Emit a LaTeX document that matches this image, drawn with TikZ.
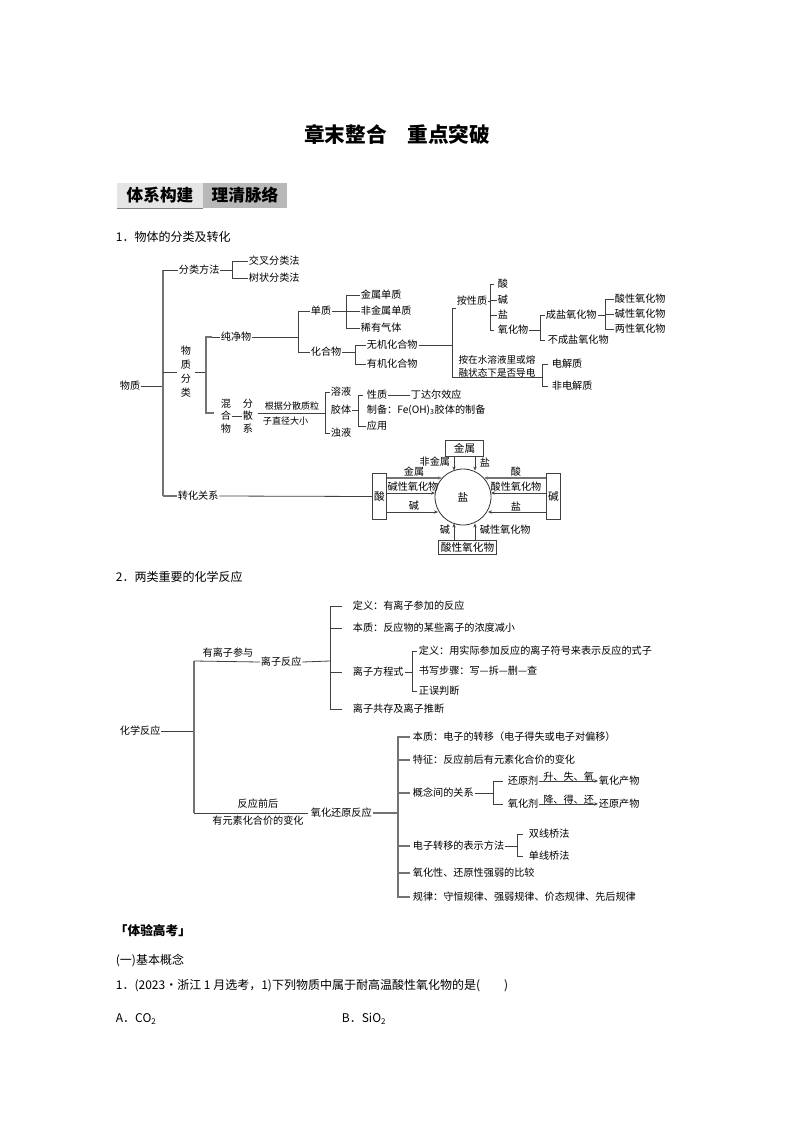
\documentclass[tikz,border=0pt]{standalone}
\usepackage{fontspec}
\setmainfont{Noto Sans CJK SC}
\usetikzlibrary{arrows.meta}
\begin{document}
\begin{tikzpicture}[x=0.75pt,y=-0.75pt,
  t/.style={inner sep=0.5pt,anchor=west,font=\fontsize{7.6}{8.6}\selectfont},
  tc/.style={inner sep=0.5pt,font=\fontsize{7.6}{8.6}\selectfont},
  ln/.style={draw=black!75,line width=0.6pt},
  gl/.style={draw=black!55,line width=0.9pt},
  ar/.style={draw=black!75,line width=0.6pt,-{Stealth[length=3pt,width=2.5pt]}},
  bx/.style={draw=black!75,line width=0.6pt,inner sep=2pt,font=\fontsize{8}{9}\selectfont}]
\useasboundingbox (0,0) rectangle (794,1123);
\fill[white] (0,0) rectangle (794,1123);
% title
\node[font=\fontsize{15.5}{16}\bfseries\selectfont] (title) at (397,135) {章末整合\quad 重点突破};
\fill[black!10] (117,183) rectangle (203,208);
\fill[black!28] (203,183) rectangle (287,208);
\draw[black!50] (117,208) -- (203,208);
\node[font=\fontsize{12.5}{13}\bfseries\selectfont] (h1) at (160,195.5) {体系构建};
\node[font=\fontsize{12.5}{13}\bfseries\selectfont] (h2) at (245,195.5) {理清脉络};
\node[t,font=\fontsize{9}{10}\selectfont] (s1) at (115,237) {1．物体的分类及转化};
% ---------- tree 1
\node[t] (wz) at (119,386) {物质};
\draw[ln] (wz.east) -- (163,386);
\draw[gl] (163,270) -- (163,496);
\node[t] (flff) at (178,270) {分类方法};
\draw[ln] (163,270) -- (flff.west) (flff.east) -- (232,270);
\draw[ln] (238,261) -- (232,261) -- (232,278) -- (238,278);
\node[t] (jc) at (248,261) {交叉分类法};
\node[t] (sz) at (248,278) {树状分类法};
\draw[ln] (238,261) -- (jc.west) (238,278) -- (sz.west);
\node[tc,align=center,font=\fontsize{7.6}{10.5}\selectfont] (wzfl) at (186,372) {物\\质\\分\\类};
\draw[ln] (163,372) -- (177,372) (195,372) -- (206,372);
\draw[gl] (212,337) -- (206,337) -- (206,413) -- (214,413);
\node[t] (cjw) at (220,337) {纯净物};
\draw[ln] (212,337) -- (cjw.west) (cjw.east) -- (298,337);
\draw[ln] (304,311) -- (298,311) -- (298,352) -- (304,352);
\node[t] (dz) at (310,311) {单质};
\node[t] (hhw) at (310,352) {化合物};
\draw[ln] (304,311) -- (dz.west) (304,352) -- (hhw.west);
\draw[ln] (dz.east) -- (346,311);
\draw[ln] (352,295) -- (346,295) -- (346,328) -- (352,328);
\node[t] (jsdz) at (360,295) {金属单质};
\node[t] (fjs) at (360,311) {非金属单质};
\node[t] (xyqt) at (360,328) {稀有气体};
\draw[ln] (352,295) -- (jsdz.west) (346,311) -- (fjs.west) (352,328) -- (xyqt.west);
\draw[ln] (hhw.east) -- (355,352);
\draw[ln] (361,345) -- (355,345) -- (355,364) -- (361,364);
\node[t] (wj) at (366,345) {无机化合物};
\node[t] (yj) at (366,364) {有机化合物};
\draw[ln] (361,345) -- (wj.west) (361,364) -- (yj.west);
\draw[ln] (wj.east) -- (452,345);
\draw[ln] (452,308) -- (452,377);
\node[tc] (axz) at (472,301) {按性质};
\draw[ln] (452,308) -- (456,308) (axz.east) -- (490,301);
\draw[ln] (494,284) -- (490,284) -- (490,330) -- (494,330);
\node[t] (suan) at (497,284) {酸};
\node[t] (jian) at (497,300) {碱};
\node[t] (yan) at (497,315) {盐};
\node[t] (yhw) at (497,330) {氧化物};
\draw[ln] (490,300) -- (jian.west) (490,315) -- (yan.west);
\draw[ln] (yhw.east) -- (540,330);
\draw[ln] (545,315) -- (540,315) -- (540,340) -- (545,340);
\node[t] (cy) at (545,315) {成盐氧化物};
\node[t] (bcy) at (547,340) {不成盐氧化物};
\draw[ln] (cy.east) -- (605,315);
\draw[ln] (610,299) -- (605,299) -- (605,329) -- (610,329);
\node[t] (sx) at (614,299) {酸性氧化物};
\node[t] (jx) at (614,314) {碱性氧化物};
\node[t] (lx) at (614,329) {两性氧化物};
\draw[ln] (610,299) -- (sx.west) (605,314) -- (jx.west) (610,329) -- (lx.west);
\node[tc,align=left,font=\fontsize{7.2}{9.5}\selectfont] (ddw) at (497,366) {按在水溶液里或熔\\融状态下是否导电};
\draw[ln] (452,377) -- (542,377);
\draw[ln] (548,364) -- (542,364) -- (542,386) -- (548,386);
\node[t] (djz) at (551,364) {电解质};
\node[t] (fdjz) at (551,386) {非电解质};
\node[tc,align=center,font=\fontsize{7.6}{9.5}\selectfont] (hhw2) at (226,416) {混\\合\\物};
\node[tc,align=center,font=\fontsize{7.6}{9.5}\selectfont] (fsx) at (248,416) {分\\散\\系};
\draw[ln] (hhw2.east) -- (fsx.west);
\node[tc,font=\fontsize{6.8}{8}\selectfont] (gj1) at (292,406) {根据分散质粒};
\node[t,font=\fontsize{6.8}{8}\selectfont] (gj2) at (262,421) {子直径大小};
\draw[ln] (258,413) -- (325,413);
\draw[ln] (330,392) -- (325,392) -- (325,433) -- (330,433);
\node[t] (ry) at (330,392) {溶液};
\node[t] (jt) at (330,410) {胶体};
\node[t] (zy) at (330,433) {浊液};
\draw[ln] (jt.east) -- (358,410);
\draw[ln] (363,395) -- (358,395) -- (358,426) -- (363,426);
\node[t] (xz) at (366,395) {性质};
\node[t] (ddr) at (410,395) {丁达尔效应};
\draw[ln] (xz.east) -- (ddr.west);
\node[t] (zb) at (366,410) {制备：Fe(OH)\textsubscript{3}胶体的制备};
\node[t] (yy) at (366,426) {应用};
\draw[ln] (363,426) -- (yy.west);
% conversion
\node[t] (zhgx) at (177,496) {转化关系};
\draw[gl] (163,496) -- (zhgx.west);
\node[bx,minimum width=11pt,minimum height=34pt,inner sep=0pt] (sbox) at (379.5,496.5) {酸};
\node[bx,minimum width=11pt,minimum height=34pt,inner sep=0pt] (jbox) at (553.5,496.5) {碱};
\draw[ln] (zhgx.east) -- (sbox.west);
\node[bx,minimum width=29pt,minimum height=12pt,inner sep=0pt] (jsbox) at (464.5,448) {金属};
\node[bx,minimum width=44pt,minimum height=11pt,inner sep=0pt] (sxbox) at (467.5,547.5) {酸性氧化物};
\node[draw=black!80,line width=0.6pt,circle,minimum size=42pt,inner sep=0pt,font=\fontsize{8}{9}\selectfont] (yc) at (463,497) {盐};
\coordinate (a1) at (454,456); \coordinate (a2) at (475,456);
\coordinate (b1) at (454,540); \coordinate (b2) at (475,540);
\draw[ar] (a1) -- (454,470.5);
\draw[ar] (a2) -- (475,470.5);
\draw[ar] (b1) -- (454,523.5);
\draw[ar] (b2) -- (475,523.5);
\node[tc,anchor=east] (l1) at (451,462) {非金属};
\node[t] (l2) at (479,462) {盐};
\node[tc,anchor=east] (l3) at (451,530) {碱};
\node[t] (l4) at (479,530) {碱性氧化物};
\draw[gl,-{Stealth[length=3pt,width=2.5pt]}] (387,478) -- (442,478);
\draw[ar] (387,493) -- (435,493);
\draw[ar] (387,512) -- (438,512);
\draw[gl,-{Stealth[length=3pt,width=2.5pt]}] (546,478) -- (484,478);
\draw[ar] (546,493) -- (491,493);
\draw[ar] (546,512) -- (488,512);
\node[tc] (m1) at (414,472) {金属};
\node[tc] (m2) at (413,487) {碱性氧化物};
\node[tc] (m3) at (414,506) {碱};
\node[tc] (m4) at (516,472) {酸};
\node[tc] (m5) at (516,487) {酸性氧化物};
\node[tc] (m6) at (516,506) {盐};
% ---------- section 2
\node[t,font=\fontsize{9}{10}\selectfont] (s2) at (115,577) {2．两类重要的化学反应};
\node[t] (hxfy) at (119,731) {化学反应};
\draw[ln] (hxfy.east) -- (194,731);
\draw[gl] (194,661) -- (194,813);
\node[tc] (ylzcy) at (228,653) {有离子参与};
\node[t] (lzfy) at (260,662) {离子反应};
\draw[ln] (194,661) -- (lzfy.west) (lzfy.east) -- (330,661);
\draw[ln] (342,606) -- (330,606) -- (330,709) -- (342,709);
\node[t] (dy1) at (352,606) {定义：有离子参加的反应};
\node[t] (bz1) at (352,628) {本质：反应物的某些离子的浓度减小};
\node[t] (lzfcs) at (352,672) {离子方程式};
\node[t] (lzgc) at (352,709) {离子共存及离子推断};
\draw[ln] (330,628) -- (342,628) (330,672) -- (342,672);
\draw[ln] (lzfcs.east) -- (412,672);
\draw[ln] (417,651) -- (412,651) -- (412,691) -- (417,691);
\node[t] (dy2) at (418,651) {定义：用实际参加反应的离子符号来表示反应的式子};
\node[t] (sxbz) at (418,671) {书写步骤：写—拆—删—查};
\node[t] (zwpd) at (418,691) {正误判断};
\node[tc] (fyqh) at (258,804) {反应前后};
\node[tc] (yys) at (258,821) {有元素化合价的变化};
\draw[ln] (194,813) -- (308,813);
\node[t] (yhhy) at (310,813) {氧化还原反应};
\draw[gl] (yhhy.east) -- (398,813);
\draw[gl] (410,737) -- (398,737) -- (398,897) -- (410,897);
\node[t] (bz2) at (412,737) {本质：电子的转移（电子得失或电子对偏移）};
\node[t] (tz) at (412,760) {特征：反应前后有元素化合价的变化};
\node[t] (gn) at (412,793) {概念间的关系};
\node[t] (dzzy) at (412,846) {电子转移的表示方法};
\node[t] (bj) at (412,873) {氧化性、还原性强弱的比较};
\node[t] (gl) at (412,897) {规律：守恒规律、强弱规律、价态规律、先后规律};
\draw[gl] (398,760) -- (410,760) (398,793) -- (410,793) (398,846) -- (410,846) (398,873) -- (410,873);
\draw[ln] (gn.east) -- (493,793);
\draw[ln] (503,781) -- (493,781) -- (493,804) -- (503,804);
\node[t] (hyj) at (507,781) {还原剂};
\node[t] (yhj) at (507,804) {氧化剂};
\node[t] (yhcw) at (598,781) {氧化产物};
\node[t] (hycw) at (598,804) {还原产物};
\draw[ar] (hyj.east) -- (yhcw.west) node[midway,above=-1pt,tc] (k1) {升、失、氧};
\draw[ar] (yhj.east) -- (hycw.west) node[midway,above=-1pt,tc] (k2) {降、得、还};
\draw[ln] (dzzy.east) -- (517,846);
\draw[ln] (523,834) -- (517,834) -- (517,856) -- (523,856);
\node[t] (sxq) at (528,834) {双线桥法};
\node[t] (dxq) at (528,856) {单线桥法};
% ---------- exam part
\node[t,font=\fontsize{9.5}{10}\bfseries\selectfont] (tygk) at (114,931) {「体验高考」};
\node[t,font=\fontsize{9}{10}\selectfont] (jbgn) at (115,961) {(一)基本概念};
\node[t,font=\fontsize{9}{10}\selectfont] (q1) at (115,986) {1．(2023·浙江 1 月选考，1)下列物质中属于耐高温酸性氧化物的是(\qquad )};
\node[t,font=\fontsize{9}{10}\selectfont] (qa) at (115,1019) {A．CO\textsubscript{2}};
\node[t,font=\fontsize{9}{10}\selectfont] (qb) at (341,1019) {B．SiO\textsubscript{2}};
\end{tikzpicture}
\end{document}
